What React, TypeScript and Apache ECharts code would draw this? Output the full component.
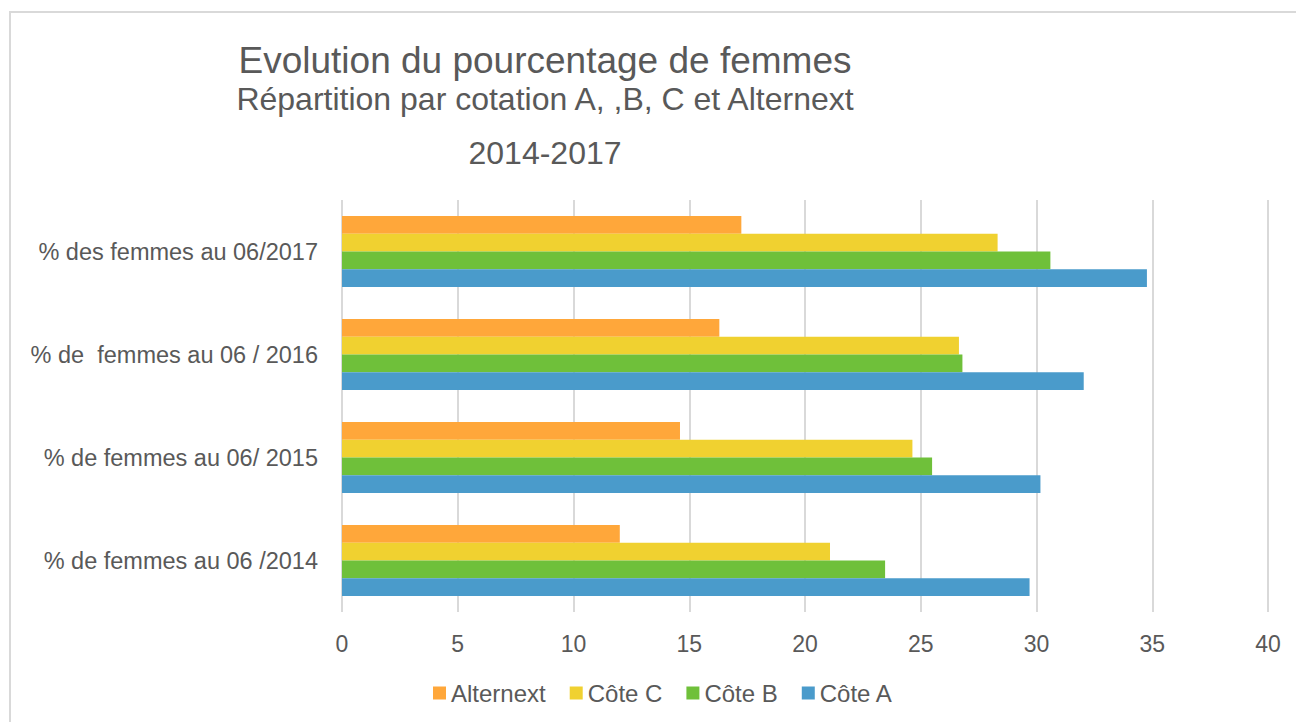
import React, { useEffect, useRef } from "react";
import * as echarts from "echarts";

const categories = [
  "% de femmes au 06 /2014",
  "% de femmes au 06/ 2015",
  "% de  femmes au 06 / 2016",
  "% des femmes au 06/2017",
];
const coteA = [29.7, 30.17, 32.04, 34.77];
const coteB = [23.46, 25.49, 26.8, 30.6];
const coteC = [21.08, 24.64, 26.65, 28.32];
const alternext = [12.0, 14.6, 16.3, 17.25];
const legendOrder = ["Alternext", "Côte C", "Côte B", "Côte A"];
const titleLines = [
  "Evolution du pourcentage de femmes",
  "Répartition par cotation A, ,B, C et Alternext",
  "2014-2017",
];

const FONT = "'Liberation Sans', Arial, sans-serif";
const TXT = "#595959";

export default function App() {
  const ref = useRef<HTMLDivElement>(null);
  useEffect(() => {
    document.body.style.margin = "0";
    const chart = echarts.init(ref.current!, null, { renderer: "svg" });
    const mk = (name: string, data: number[], color: string) => ({
      name,
      type: "bar",
      data,
      barGap: "0%",
      barCategoryGap: "31%",
      itemStyle: { color },
    });
    const tText = (text: string, y: number, size: number) => ({
      type: "text",
      x: 545,
      y,
      silent: true,
      style: {
        text,
        fill: TXT,
        font: `${size}px ${FONT}`,
        textAlign: "center",
        textVerticalAlign: "middle",
      },
    });
    chart.setOption({
      animation: false,
      backgroundColor: "#ffffff",
      textStyle: { fontFamily: FONT },
      graphic: [
        {
          type: "rect",
          shape: { x: 10, y: 12, width: 1400, height: 800 },
          style: { fill: "none", stroke: "#d9d9d9", lineWidth: 2 },
          silent: true,
        },
        tText(titleLines[0], 60, 37),
        tText(titleLines[1], 99, 32),
        tText(titleLines[2], 153, 32),
      ],
      legend: {
        data: legendOrder,
        top: 676,
        left: 428,
        itemWidth: 13,
        itemHeight: 13,
        itemGap: 24,
        icon: "rect",
        textStyle: { fontFamily: FONT, fontSize: 24, color: TXT },
      },
      grid: { left: 342, right: 28, top: 200, bottom: 110, containLabel: false },
      xAxis: {
        type: "value",
        min: 0,
        max: 40,
        interval: 5,
        axisLine: { show: false },
        axisTick: { show: false },
        axisLabel: { fontFamily: FONT, fontSize: 23, color: TXT, margin: 20 },
        splitLine: { show: true, lineStyle: { color: "#d9d9d9", width: 2 } },
      },
      yAxis: {
        type: "category",
        data: categories,
        axisLine: { show: false },
        axisTick: { show: false },
        axisLabel: { fontFamily: FONT, fontSize: 23.5, color: TXT, margin: 24 },
      },
      series: [
        mk("Alternext", alternext, "#ffa73a"),
        mk("Côte C", coteC, "#f0d130"),
        mk("Côte B", coteB, "#6fc03a"),
        mk("Côte A", coteA, "#4a9bcb"),
      ],
    });
    return () => chart.dispose();
  }, []);
  return (
    <div
      ref={ref}
      style={{ position: "absolute", left: 0, top: 0, width: 1296, height: 722 }}
    />
  );
}
